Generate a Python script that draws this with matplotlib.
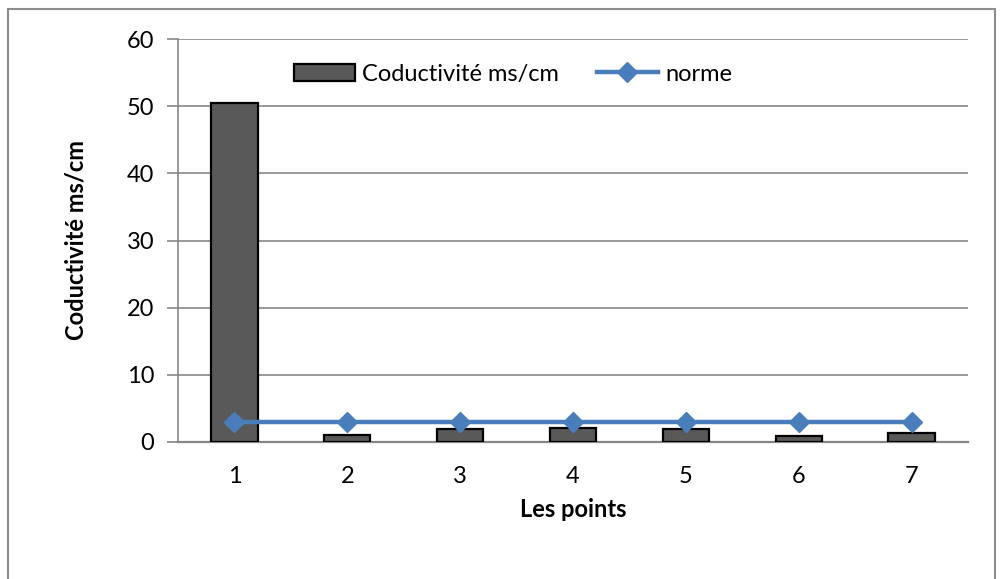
import matplotlib
matplotlib.use("Agg")
import matplotlib.pyplot as plt
from matplotlib.patches import Rectangle
import numpy as np

points = ["1", "2", "3", "4", "5", "6", "7"]
conductivite = [50.5, 1.1, 2.0, 2.1, 1.9, 0.9, 1.3]
norme = [3, 3, 3, 3, 3, 3, 3]
y_ticks = [0, 10, 20, 30, 40, 50, 60]

plt.rcParams['font.family'] = ['Lato', 'DejaVu Sans']

W, H = 1006, 579
fig = plt.figure(figsize=(W / 100, H / 100), dpi=100)
ax = fig.add_axes([178 / W, 1 - 442 / H, (968 - 178) / W, (442 - 39) / H])

# outer chart border
fig.patches.append(Rectangle((8 / W, -0.05), (995 - 8) / W, 1 - 9 / H + 0.05,
                             transform=fig.transFigure, fill=False,
                             edgecolor='#8c8c8c', linewidth=1.5))

x = np.arange(len(points))
bars = ax.bar(x, conductivite, width=0.41, color='#595959', edgecolor='black',
              linewidth=1.6, label='Coductivité ms/cm', zorder=3)
line, = ax.plot(x, norme, color='#4a7ebb', linewidth=3.2, marker='D', markersize=10,
                markerfacecolor='#4a7ebb', markeredgecolor='#4a7ebb', label='norme', zorder=4)

fs = 17
ax.set_xlim(-0.5, len(points) - 0.5)
ax.set_ylim(0, 60)
ax.set_yticks(y_ticks)
ax.set_xticks(x)
ax.set_xticklabels(points)
ax.tick_params(axis='y', length=8, width=1.2, color='#878787', labelsize=fs, pad=9)
ax.tick_params(axis='x', length=0, labelsize=fs, pad=17)
ax.yaxis.grid(True, color='#878787', linewidth=1.2, zorder=0)
ax.set_axisbelow(True)

for side in ['top', 'right']:
    ax.spines[side].set_visible(False)
ax.spines['left'].set_color('#878787')
ax.spines['left'].set_linewidth(1.2)
ax.spines['bottom'].set_color('#878787')
ax.spines['bottom'].set_linewidth(1.6)

ax.set_ylabel('Coductivité ms/cm', fontsize=fs, fontweight='bold', labelpad=28)
ax.set_xlabel('Les points', fontsize=fs, fontweight='bold', labelpad=8)

leg = ax.legend([bars, line], ['Coductivité ms/cm', 'norme'],
                loc='center', bbox_to_anchor=(0.424, 0.913), ncol=2, frameon=False,
                fontsize=fs, handlelength=2.6, handleheight=0.7,
                handletextpad=0.3, columnspacing=1.6)

fig.savefig('out.png', dpi=100)
